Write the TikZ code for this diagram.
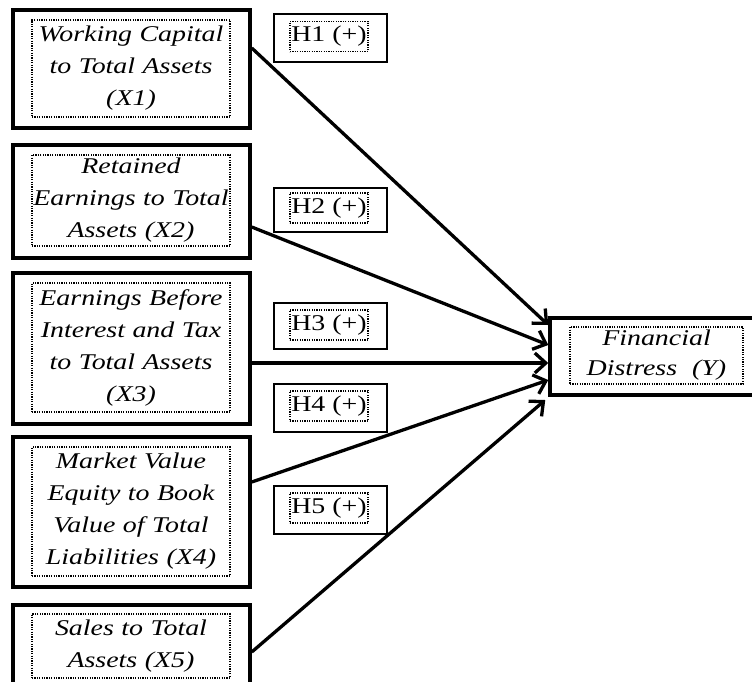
\documentclass[tikz,border=0pt]{standalone}
\usepackage{fontspec}
\newfontfamily\diagfont{Liberation Serif}[FakeStretch=1.24]
\usetikzlibrary{arrows.meta}
\tikzset{varbox/.style={draw,line width=3.5pt,minimum width=237pt,inner sep=0pt}, inbox/.style={draw,dash pattern=on 1.2pt off 1.2pt,line width=1.3pt,align=center,text width=198pt,inner sep=0pt,font=\diagfont\itshape\fontsize{22.5}{32}\selectfont},hbox/.style={draw,line width=1.5pt,minimum width=113pt,inner sep=0pt},hin/.style={draw,dash pattern=on 1.2pt off 1.2pt,line width=1.3pt,inner sep=1pt,minimum width=78pt,minimum height=30pt,font=\diagfont\fontsize{22.5}{26}\selectfont},arr/.style={-{Straight Barb[length=11pt,width=20pt]},line width=3.3pt}}

\begin{document}
\begin{tikzpicture}[x=1pt,y=-1pt]
\path[use as bounding box,clip](0,0)rectangle(752,681);
\node[varbox,minimum height=118pt](v1)at(131.5,69){};\node[inbox,minimum height=97pt](t1)at(131,68.5){Working Capital\\to Total Assets\\(X1)};
\node[varbox,minimum height=113pt](v2)at(131.5,201.5){};\node[inbox,minimum height=91pt](t2)at(131,200.5){Retained\\Earnings to Total\\Assets (X2)};
\node[varbox,minimum height=151pt](v3)at(131.5,348.5){};\node[inbox,minimum height=129pt](t3)at(131,347.5){Earnings Before\\Interest and Tax\\to Total Assets\\(X3)};
\node[varbox,minimum height=150pt](v4)at(131.5,512){};\node[inbox,minimum height=129pt](t4)at(131,511.5){Market Value\\Equity to Book\\Value of Total\\Liabilities (X4)};
\node[varbox,minimum height=90pt](v5)at(131.5,650){};\node[inbox,minimum height=64pt](t5)at(131,646){Sales to Total\\Assets (X5)};
\node[varbox,minimum width=220pt,minimum height=77pt](yv)at(660,356.5){};\node[inbox,text width=173pt,minimum height=57pt,font=\diagfont\itshape\fontsize{22.5}{30}\selectfont](yt)at(656.5,355.5){Financial\\Distress\ \ (Y)};
% hypothesis labels
\node[hbox,minimum height=48pt](h1)at(330.5,38){};\node[hin](l1)at(329,36.5){H1 (+)};
\node[hbox,minimum height=44pt](h2)at(330.5,210){};\node[hin](l2)at(329,208){H2 (+)};
\node[hbox,minimum height=46pt](h3)at(330.5,326){};\node[hin](l3)at(329,325){H3 (+)};
\node[hbox,minimum height=48pt](h4)at(330.5,408){};\node[hin](l4)at(329,406){H4 (+)};
\node[hbox,minimum height=48pt](h5)at(330.5,510){};\node[hin](l5)at(329,508){H5 (+)};
\draw[arr]([yshift=21pt]v1.east)--([yshift=31.5pt]yv.west);\draw[arr]([yshift=-25.5pt]v2.east)--([yshift=11.5pt]yv.west);
\draw[arr]([yshift=-14.5pt]v3.east)--([yshift=-6.5pt]yv.west);\draw[arr]([yshift=30pt]v4.east)--([yshift=-23.5pt]yv.west);
\draw[arr]([yshift=-2pt]v5.east)--([yshift=-43.5pt,xshift=-3pt]yv.west);
\end{tikzpicture}
\end{document}
